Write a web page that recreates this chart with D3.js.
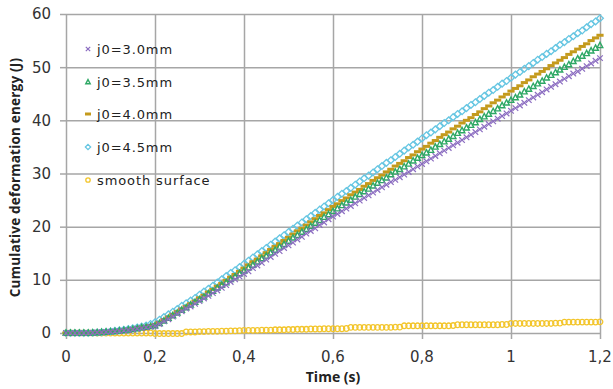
<!DOCTYPE html>
<html><head><meta charset="utf-8">
<script src="https://cdn.jsdelivr.net/npm/d3@7"></script>
<style>body{margin:0;background:#fff}svg{display:block}</style>
</head><body><svg id="c" width="613" height="389"></svg>
<script>
const time = d3.range(121).map(i => +(i * 0.01).toFixed(2));
const seriesNames = ["j0=3.0mm", "j0=3.5mm", "j0=4.0mm", "j0=4.5mm", "smooth surface"];
const j30 = [0,0,0,0,0,0,0.05,0.1,0.15,0.2,
0.25,0.3,0.35,0.45,0.55,0.65,0.8,0.9,1.05,1.15,
1.3,1.7,2.2,2.6,3.1,3.6,4.1,4.6,5.0,5.5,
6.0,6.5,7.0,7.5,8.0,8.5,9.0,9.6,10.1,10.6,
11.1,11.6,12.2,12.7,13.2,13.8,14.3,14.9,15.4,16.0,
16.5,17.0,17.6,18.1,18.7,19.2,19.7,20.3,20.8,21.4,
21.9,22.4,22.9,23.4,23.9,24.4,24.9,25.4,25.9,26.4,
26.9,27.4,27.9,28.4,28.8,29.3,29.8,30.3,30.8,31.3,
31.8,32.3,32.8,33.3,33.8,34.3,34.8,35.3,35.8,36.3,
36.8,37.3,37.8,38.3,38.8,39.3,39.8,40.3,40.8,41.3,
41.8,42.3,42.8,43.3,43.8,44.3,44.8,45.3,45.8,46.3,
46.8,47.3,47.8,48.3,48.8,49.2,49.7,50.2,50.7,51.2,
51.7];
const j35 = [0,0,0,0,0,0,0.05,0.1,0.15,0.2,
0.25,0.3,0.4,0.5,0.6,0.7,0.85,1.0,1.1,1.25,
1.4,1.8,2.3,2.8,3.3,3.8,4.3,4.8,5.3,5.8,
6.3,6.8,7.4,7.9,8.5,9.0,9.5,10.1,10.6,11.2,
11.7,12.3,12.8,13.4,14.0,14.5,15.1,15.6,16.2,16.7,
17.3,17.9,18.4,19.0,19.5,20.1,20.7,21.2,21.8,22.3,
22.9,23.4,24.0,24.5,25.0,25.6,26.1,26.6,27.1,27.7,
28.2,28.7,29.2,29.8,30.3,30.8,31.3,31.8,32.4,32.9,
33.4,33.9,34.4,35.0,35.5,36.0,36.5,37.0,37.6,38.1,
38.6,39.1,39.6,40.2,40.7,41.2,41.7,42.2,42.8,43.3,
43.8,44.3,44.8,45.4,45.9,46.4,46.9,47.4,48.0,48.5,
49.0,49.5,50.0,50.5,51.1,51.6,52.1,52.6,53.1,53.6,
54.1];
const j40 = [0,0,0,0,0,0,0.05,0.1,0.15,0.2,
0.25,0.35,0.45,0.55,0.65,0.8,0.95,1.1,1.25,1.4,
1.6,2.0,2.5,3.0,3.5,4.0,4.5,5.0,5.5,6.0,
6.6,7.1,7.7,8.2,8.8,9.3,9.9,10.5,11.0,11.6,
12.2,12.8,13.4,13.9,14.5,15.1,15.7,16.3,16.8,17.4,
18.0,18.6,19.2,19.7,20.3,20.9,21.5,22.1,22.6,23.2,
23.8,24.3,24.9,25.4,26.0,26.5,27.0,27.6,28.1,28.7,
29.2,29.7,30.3,30.8,31.4,31.9,32.4,33.0,33.5,34.1,
34.6,35.1,35.7,36.2,36.8,37.3,37.8,38.4,38.9,39.5,
40.0,40.5,41.1,41.6,42.2,42.7,43.3,43.8,44.4,44.9,
45.5,46.0,46.5,47.1,47.6,48.2,48.7,49.2,49.7,50.3,
50.8,51.3,51.8,52.4,52.9,53.4,53.9,54.4,55.0,55.5,
56.0];
const j45 = [0,0,0,0,0,0,0.05,0.1,0.15,0.2,
0.3,0.4,0.5,0.6,0.75,0.9,1.05,1.2,1.4,1.7,
2.0,2.5,3.0,3.5,4.0,4.5,5.1,5.6,6.1,6.6,
7.2,7.8,8.3,8.9,9.5,10.1,10.7,11.3,11.8,12.4,
13.0,13.6,14.2,14.8,15.4,16.0,16.6,17.2,17.8,18.4,
19.0,19.6,20.2,20.8,21.4,22.0,22.6,23.2,23.8,24.4,
25.0,25.6,26.2,26.7,27.3,27.9,28.5,29.1,29.6,30.2,
30.8,31.4,32.0,32.5,33.1,33.7,34.3,34.9,35.4,36.0,
36.6,37.2,37.7,38.3,38.9,39.5,40.0,40.6,41.2,41.7,
42.3,42.9,43.4,44.0,44.6,45.2,45.7,46.3,46.9,47.4,
48.0,48.6,49.1,49.7,50.2,50.8,51.4,51.9,52.5,53.0,
53.6,54.2,54.7,55.3,55.8,56.4,56.9,57.5,58.1,58.6,
59.2];
const smooth = [0,0,0,0,0,0,0,0,0,0,
0,0,0,0,0,0,0,0,0,0,
-0.1,-0.1,-0.1,-0.1,-0.1,-0.1,-0.1,0.2,0.2,0.2,
0.25,0.25,0.3,0.3,0.3,0.35,0.35,0.4,0.4,0.45,
0.5,0.5,0.5,0.5,0.55,0.55,0.55,0.6,0.6,0.6,
0.65,0.65,0.7,0.7,0.7,0.75,0.75,0.75,0.8,0.8,
0.8,0.8,0.8,0.85,1.05,1.05,1.05,1.05,1.05,1.05,
1.05,1.05,1.05,1.05,1.1,1.1,1.35,1.35,1.35,1.35,
1.35,1.35,1.35,1.35,1.35,1.35,1.35,1.4,1.55,1.55,
1.55,1.55,1.55,1.55,1.55,1.55,1.55,1.55,1.6,1.6,
1.8,1.8,1.8,1.8,1.8,1.8,1.8,1.8,1.8,1.8,
1.85,1.85,2.05,2.05,2.05,2.05,2.05,2.05,2.05,2.05,
2.1];
const xTicks = [0, 0.2, 0.4, 0.6, 0.8, 1, 1.2];
const xTickLabels = ["0", "0,2", "0,4", "0,6", "0,8", "1", "1,2"];
const yTicks = [0, 10, 20, 30, 40, 50, 60];
const colors = ["#8a6bc0", "#2ea865", "#c49a1c", "#66c6e2", "#f3c52a"];
const markers = ["x", "tri", "dash", "diamond", "circle"];

const svg = d3.select("#c");
const L = 66, R = 600, T = 14, B = 333;
const x = d3.scaleLinear().domain([0, 1.2]).range([L, R]);
const y = d3.scaleLinear().domain([0, 60]).range([B, T]);
const grid = "#a6a6a6";

svg.append("g").attr("transform", `translate(0,${B})`)
  .call(d3.axisBottom(x).tickValues(xTicks).tickSize(-(B - T)).tickFormat(""))
  .call(g => { g.select(".domain").remove(); g.selectAll("line").attr("stroke", grid).attr("stroke-width", 1.5); });
svg.append("g").attr("transform", `translate(${L},0)`)
  .call(d3.axisLeft(y).tickValues(yTicks).tickSize(6).tickFormat(""))
  .call(g => { g.select(".domain").remove(); g.selectAll("line").attr("stroke", grid).attr("stroke-width", 1.5); });
svg.append("g").attr("transform", `translate(${L},0)`)
  .call(d3.axisLeft(y).tickValues(yTicks).tickSize(-(R - L)).tickFormat(""))
  .call(g => { g.select(".domain").remove(); g.selectAll("line").attr("stroke", grid).attr("stroke-width", 1.5); });
svg.append("g").attr("transform", `translate(0,${B})`)
  .call(d3.axisBottom(x).tickValues(xTicks).tickSize(6).tickFormat(""))
  .call(g => { g.select(".domain").remove(); g.selectAll("line").attr("stroke", grid).attr("stroke-width", 1.5); });

const tf = "'DejaVu Sans', Verdana, sans-serif";
svg.append("g").selectAll("text").data(yTicks).join("text")
  .attr("x", L - 15).attr("y", d => y(d)).attr("dy", "0.36em")
  .attr("text-anchor", "end").attr("font-family", tf).attr("font-size", 15).attr("fill", "#333")
  .text(d => d);
svg.append("g").selectAll("text").data(xTicks).join("text")
  .attr("x", d => x(d)).attr("y", 357).attr("dy", "0.36em")
  .attr("text-anchor", "middle").attr("font-family", tf).attr("font-size", 15).attr("fill", "#333")
  .text((d, i) => xTickLabels[i]);

svg.append("text").attr("x", (L + R) / 2).attr("y", 377).attr("dy", "0.36em")
  .attr("text-anchor", "middle").attr("font-family", "'Open Sans', sans-serif").attr("font-weight", "bold")
  .attr("font-size", 14).attr("fill", "#222").text("Time (s)");
svg.append("text").attr("transform", `translate(15,${(T + B) / 2 + 4}) rotate(-90)`).attr("dy", "0.36em")
  .attr("text-anchor", "middle").attr("font-family", "'Open Sans', sans-serif").attr("font-weight", "bold")
  .attr("font-size", 13.5).attr("letter-spacing", 0.2).attr("fill", "#222").text("Cumulative deformation energy (J)");

function drawMarker(sel, type, color, s) {
  if (type === "x") {
    sel.append("path").attr("d", `M${-s},${-s}L${s},${s}M${-s},${s}L${s},${-s}`)
      .attr("stroke", color).attr("stroke-width", 1.2).attr("fill", "none");
  } else if (type === "tri") {
    sel.append("path").attr("d", `M0,${-s * 1.1}L${s},${s * 0.8}L${-s},${s * 0.8}Z`)
      .attr("stroke", color).attr("stroke-width", 1.4).attr("fill", "none");
  } else if (type === "dash") {
    sel.append("path").attr("d", `M${-s - 0.8},0L${s + 0.8},0`)
      .attr("stroke", color).attr("stroke-width", 3).attr("fill", "none");
  } else if (type === "diamond") {
    sel.append("path").attr("d", `M0,${-s * 1.2}L${s * 1.2},0L0,${s * 1.2}L${-s * 1.2},0Z`)
      .attr("stroke", color).attr("stroke-width", 1.3).attr("fill", "none");
  } else {
    sel.append("circle").attr("r", s)
      .attr("stroke", color).attr("stroke-width", 1.3).attr("fill", "none");
  }
}

const allSeries = [j30, j35, j40, j45, smooth];
const drawOrder = [4, 3, 2, 1, 0];
drawOrder.forEach(si => {
  const g = svg.append("g");
  allSeries[si].forEach((v, i) => {
    const m = g.append("g").attr("transform", `translate(${x(time[i])},${y(v)})`);
    drawMarker(m, markers[si], colors[si], 2.8);
  });
});

const legY = [49, 82, 114, 147, 180];
seriesNames.forEach((n, i) => {
  const m = svg.append("g").attr("transform", `translate(88,${legY[i]})`);
  drawMarker(m, markers[i], colors[i], 2.2);
  svg.append("text").attr("x", 97).attr("y", legY[i]).attr("dy", "0.36em")
    .attr("font-family", tf).attr("font-size", 13).attr("letter-spacing", 0.9).attr("fill", "#222").text(n);
});
</script></body></html>
